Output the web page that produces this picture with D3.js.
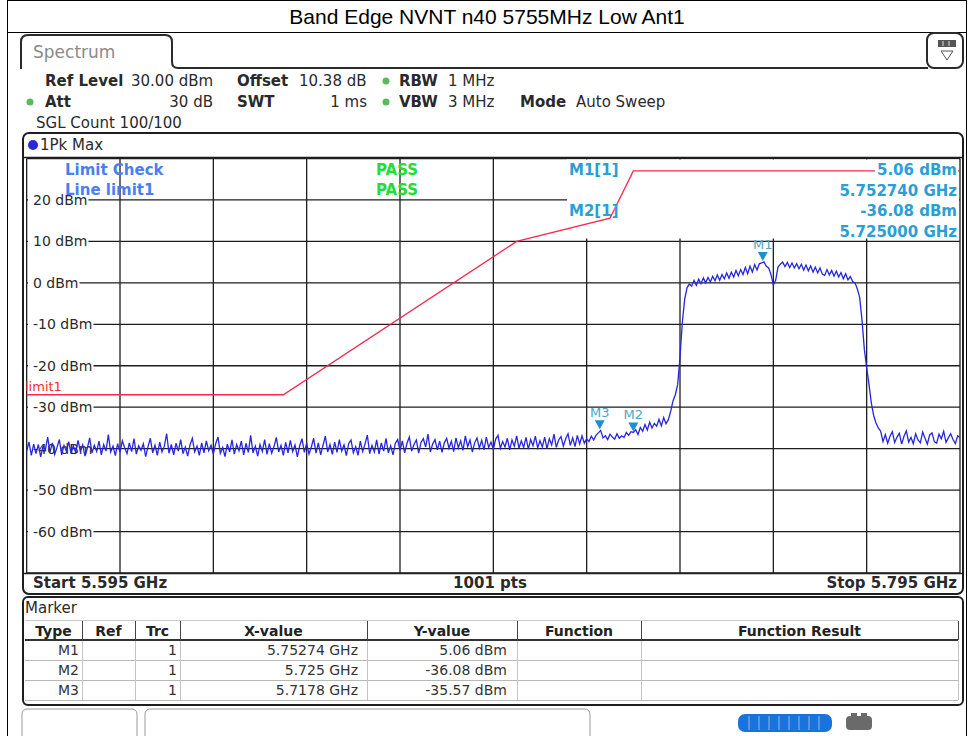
<!DOCTYPE html>
<html><head><meta charset="utf-8">
<script src="https://cdn.jsdelivr.net/npm/d3@7"></script>
<style>body{margin:0;background:#fff}svg{display:block}text{font-family:"DejaVu Sans",sans-serif}</style>
</head><body><svg id="c" width="968" height="736"></svg>
<script>
// ---------------- data ----------------
const titleText = "Band Edge NVNT n40 5755MHz Low Ant1";
const startGHz = 5.595, stopGHz = 5.795;
const xTickGHz = [5.595,5.615,5.635,5.655,5.675,5.695,5.715,5.735,5.755,5.775,5.795];
const yGridLevels = [30,20,10,0,-10,-20,-30,-40,-50,-60,-70];
const yLabelLevels = [20,10,0,-10,-20,-30,-40,-50,-60];
const yLabelTexts = ["20 dBm","10 dBm","0 dBm","-10 dBm","-20 dBm","-30 dBm","-40 dBm","-50 dBm","-60 dBm"];
// trace 1 (1Pk Max), read every 0.5 MHz from 5.595 to 5.795 GHz
const traceLevels = [
-40.6,-38.4,-41.6,-38.9,-41.2,-39.0,-42.0,-39.4,-40.3,-37.2,-40.9,-38.6,-41.4,-39.7,-37.8,-41.5,-39.2,-40.6,-38.3,-41.1,
-39.3,-40.9,-38.0,-40.6,-39.1,-41.8,-39.9,-37.4,-41.0,-39.2,-40.7,-38.2,-41.5,-39.0,-40.6,-36.6,-40.8,-39.4,-41.7,-38.8,
-40.9,-38.1,-39.8,-41.2,-38.6,-40.7,-37.6,-41.3,-39.3,-40.4,-38.8,-41.9,-39.5,-37.5,-41.0,-39.2,-41.6,-38.4,-40.8,-39.4,
-36.4,-41.1,-39.0,-41.5,-38.7,-40.6,-37.8,-41.2,-39.6,-41.8,-39.1,-37.5,-40.8,-39.4,-41.6,-38.6,-41.0,-38.1,-40.5,-39.2,
-41.3,-38.8,-37.2,-41.1,-39.7,-41.9,-38.9,-40.8,-37.9,-41.3,-39.0,-40.5,-38.2,-41.5,-38.7,-40.9,-36.8,-41.0,-39.4,-41.8,
-39.0,-40.7,-37.8,-41.4,-38.8,-41.1,-39.5,-37.3,-40.8,-39.2,-41.6,-38.5,-41.0,-38.0,-40.7,-39.1,-42.0,-39.3,-37.6,-40.9,
-38.7,-41.3,-39.6,-37.5,-41.1,-38.6,-41.5,-39.2,-37.0,-40.8,-39.0,-41.4,-38.4,-40.9,-37.8,-40.6,-39.1,-41.7,-38.8,-37.9,
-41.0,-39.5,-41.6,-38.2,-40.7,-38.9,-36.7,-41.2,-39.2,-40.8,-37.9,-41.3,-38.6,-40.6,-37.5,-41.0,-39.3,-41.5,-38.7,-37.8,
-40.5,-38.1,-41.0,-38.7,-37.2,-40.6,-39.0,-37.9,-41.1,-38.5,-37.6,-39.6,-36.5,-40.8,-38.9,-37.8,-40.3,-38.2,-40.9,-38.6,
-37.5,-39.9,-38.2,-40.7,-37.4,-39.8,-38.1,-40.4,-36.9,-39.5,-37.9,-40.8,-38.6,-37.4,-39.9,-38.0,-40.3,-37.2,-39.7,-38.4,
-40.2,-37.7,-36.8,-39.9,-38.3,-39.6,-37.5,-40.3,-37.9,-39.4,-36.9,-39.9,-38.1,-39.7,-37.3,-40.1,-37.8,-39.3,-37.0,-39.8,
-38.1,-39.6,-37.2,-40.0,-37.6,-39.1,-36.5,-39.7,-37.9,-37.1,-39.4,-37.6,-36.4,-39.2,-37.4,-39.5,-36.8,-38.9,-36.9,-38.7,
-37.6,-38.3,-37.0,-37.9,-36.8,-36.2,-35.6,-37.4,-36.9,-37.8,-36.5,-37.2,-37.7,-36.4,-37.5,-36.9,-37.3,-36.1,-36.8,-35.9,
-36.08,-35.4,-36.6,-34.9,-35.8,-34.2,-35.5,-33.6,-35.0,-33.9,-34.6,-32.9,-34.5,-32.5,-34.0,-33.0,-31.0,-28.5,-27.0,-24.5,
-18.0,-9.5,-4.0,-1.2,-0.3,-0.8,0.6,-0.6,0.9,-0.2,1.2,0.0,1.3,0.2,1.6,0.5,1.9,0.6,2.0,1.0,
2.4,1.1,2.6,1.4,3.0,1.7,3.2,2.0,3.7,2.2,4.0,2.6,4.4,3.1,4.6,4.8,5.06,4.0,3.6,2.0,
-0.5,0.6,3.8,4.5,5.0,3.9,4.9,3.7,4.8,3.6,4.6,3.4,4.5,3.1,4.3,2.9,4.1,2.6,3.8,2.4,
3.6,2.1,1.8,3.2,1.9,3.0,1.6,2.8,1.4,2.5,1.0,2.2,0.7,1.5,0.3,0.0,-1.5,-3.5,-9.0,-16.0,
-20.5,-24.5,-29.0,-32.0,-33.8,-35.0,-35.8,-38.3,-36.6,-38.7,-37.0,-35.9,-38.5,-37.2,-36.3,-38.9,-37.0,-35.7,-38.4,-37.3,
-38.8,-36.4,-37.9,-38.6,-36.0,-37.5,-38.9,-36.7,-36.2,-38.3,-38.7,-36.5,-37.6,-35.8,-38.5,-37.4,-36.4,-37.8,-38.8,-36.9,
-37.3];
const limitFreqs = [5.595,5.650,5.700,5.720,5.725,5.795];
const limitLevels = [-27,-27,10,15.6,27,27];
const markerNames = ["M1","M2","M3"];
const markerFreqs = [5.75274,5.725,5.7178];
const markerLevels = [5.06,-36.08,-35.57];
const markerXText = ["5.75274 GHz","5.725 GHz","5.7178 GHz"];
const markerYText = ["5.06 dBm","-36.08 dBm","-35.57 dBm"];
const markerInfoLines = ["5.06 dBm","5.752740 GHz","-36.08 dBm","5.725000 GHz"];
const tableHeaders = ["Type","Ref","Trc","X-value","Y-value","Function","Function Result"];

// ---------------- drawing ----------------
const svg = d3.select("#c");
const C = {grid:"#1e1e1e", text:"#2a2a2a", mk:"#2a9fd6", lim:"#f5284f", tr:"#2626e2"};

// outer frame + title
svg.append("rect").attr("x",7.5).attr("y",0.5).attr("width",959).attr("height",740).attr("fill","none").attr("stroke","#000");
svg.append("line").attr("x1",7).attr("x2",967).attr("y1",32.5).attr("y2",32.5).attr("stroke","#000");
svg.append("text").attr("x",487).attr("y",24).attr("text-anchor","middle")
  .style("font-family","'Liberation Sans',Arial,sans-serif").style("font-size","21px").attr("fill","#000").text(titleText);

// tab
svg.append("path").attr("d","M21,69 L21,42 Q21,35 28,35 L165,35 Q172,35 172,42 L172,62 Q172,68 178,68 L928,68")
  .attr("fill","none").attr("stroke","#2b2b2b").attr("stroke-width",2);
svg.append("text").attr("x",33).attr("y",58).style("font-size","17px").attr("fill","#8a8a8a").text("Spectrum");
// icon box
svg.append("rect").attr("x",927).attr("y",33).attr("width",36).attr("height",35).attr("rx",7).attr("fill","#fff").attr("stroke","#2b2b2b").attr("stroke-width",2);
svg.append("rect").attr("x",938).attr("y",40).attr("width",18).attr("height",7).attr("fill","#555");
[943,949].forEach(xx=>svg.append("line").attr("x1",xx).attr("x2",xx).attr("y1",41).attr("y2",46).attr("stroke","#ddd"));
svg.append("path").attr("d","M941,51 L953,51 L947,60 Z").attr("fill","none").attr("stroke","#555");

// header info
const hdr = svg.append("g").style("font-size","15px").attr("fill",C.text);
function ht(x,y,t,bold,anchor){hdr.append("text").attr("x",x).attr("y",y).attr("text-anchor",anchor||"start").style("font-weight",bold?"bold":"normal").text(t);}
ht(45,86,"Ref Level",1); ht(131,86,"30.00 dBm"); ht(237,86,"Offset",1); ht(299,86,"10.38 dB"); ht(399,86,"RBW",1); ht(448,86,"1 MHz");
ht(45,107,"Att",1); ht(213,107,"30 dB",0,"end"); ht(237,107,"SWT",1); ht(367,107,"1 ms",0,"end"); ht(399,107,"VBW",1); ht(448,107,"3 MHz");
ht(520,107,"Mode",1); ht(576,107,"Auto Sweep");
ht(36,128,"SGL Count 100/100");
[[386,81],[30,102],[386,102]].forEach(p=>svg.append("circle").attr("cx",p[0]).attr("cy",p[1]).attr("r",3.5).attr("fill","#5cb85c"));

// plot frame
svg.append("rect").attr("x",23).attr("y",133).attr("width",940).attr("height",461).attr("rx",6).attr("fill","#fff").attr("stroke","#1e1e1e").attr("stroke-width",2);
svg.append("circle").attr("cx",33).attr("cy",145).attr("r",5).attr("fill","#2a2ad0");
svg.append("text").attr("x",40).attr("y",150).style("font-size","15px").attr("fill",C.text).text("1Pk Max");

const x = d3.scaleLinear().domain([startGHz, stopGHz]).range([26.67, 960]);
const y = d3.scaleLinear().domain([-70, 30]).range([573, 158.5]);
const idx = d3.scaleLinear().domain([0, traceLevels.length-1]).range([startGHz, stopGHz]);

const g = svg.append("g");
// grid
g.selectAll(".vg").data(xTickGHz).join("line").attr("x1",d=>x(d)).attr("x2",d=>x(d)).attr("y1",y(30)).attr("y2",y(-70))
  .attr("stroke",C.grid).attr("stroke-width",1.3);
g.selectAll(".hg").data(yGridLevels).join("line").attr("x1",x(startGHz)).attr("x2",x(stopGHz)).attr("y1",d=>y(d)).attr("y2",d=>y(d))
  .attr("stroke",C.grid).attr("stroke-width",1.3);
svg.append("line").attr("x1",23).attr("x2",963).attr("y1",157.5).attr("y2",157.5).attr("stroke",C.grid).attr("stroke-width",1.5);
// y labels with background
const yl = g.selectAll(".yl").data(yLabelLevels).join("g");
yl.each(function(d,i){
  const t = d3.select(this).append("text").attr("x",33).attr("y",y(d)+5).style("font-size","14px").attr("fill",C.text).text(yLabelTexts[i]);
  const w = t.node().getComputedTextLength();
  d3.select(this).insert("rect","text").attr("x",28).attr("y",y(d)-8).attr("width",w+6).attr("height",16).attr("fill","#fff");
});
// marker info box background
g.append("rect").attr("x",567).attr("y",159.5).attr("width",392).attr("height",79).attr("fill","#fff");

// limit check text
const lt = svg.append("g").style("font-size","15px").style("font-weight","bold");
lt.append("text").attr("x",65).attr("y",175).attr("fill","#4a7ff0").text("Limit Check");
lt.append("text").attr("x",65).attr("y",195).attr("fill","#4a7ff0").text("Line limit1");
lt.append("text").attr("x",376).attr("y",175).attr("fill","#22dd33").text("PASS");
lt.append("text").attr("x",376).attr("y",195).attr("fill","#22dd33").text("PASS");

// limit line
svg.append("path").datum(limitFreqs.map((f,i)=>[f,limitLevels[i]]))
  .attr("d",d3.line().x(d=>x(d[0])).y(d=>y(d[1]))).attr("fill","none").attr("stroke",C.lim).attr("stroke-width",1.3);
svg.append("text").attr("x",25).attr("y",391).style("font-size","13px").attr("fill","#f03030").text("limit1");

// marker info texts
const mi = svg.append("g").style("font-size","15px").style("font-weight","bold").attr("fill",C.mk);
mi.append("text").attr("x",569).attr("y",175).text("M1[1]");
mi.append("text").attr("x",569).attr("y",216).text("M2[1]");
markerInfoLines.forEach((t,i)=>{
  const tt = mi.append("text").attr("x",957).attr("y",175+i*20.5).attr("text-anchor","end").text(t);
  if(i===0){const w=tt.node().getComputedTextLength(); mi.insert("rect","text").attr("x",957-w-2).attr("y",162).attr("width",w+3).attr("height",17).attr("fill","#fff");}
});

// trace
svg.append("path").datum(traceLevels)
  .attr("d",d3.line().x((d,i)=>x(idx(i))).y(d=>y(d))).attr("fill","none").attr("stroke",C.tr).attr("stroke-width",1.3);

// markers
markerNames.forEach((n,i)=>{
  const mx = x(markerFreqs[i]), my = y(markerLevels[i]);
  svg.append("path").attr("d",`M${mx-5},${my-10} L${mx+5},${my-10} L${mx},${my-1} Z`).attr("fill","#1e8fd0");
  svg.append("text").attr("x",mx).attr("y",my-13).attr("text-anchor","middle").style("font-size","13px").attr("fill","#4fa6c4").text(n);
});

// bottom of plot
svg.append("line").attr("x1",23).attr("x2",963).attr("y1",573.5).attr("y2",573.5).attr("stroke",C.grid).attr("stroke-width",1.5);
const bt = svg.append("g").style("font-size","15px").style("font-weight","bold").attr("fill",C.text);
bt.append("text").attr("x",33).attr("y",588).text("Start 5.595 GHz");
bt.append("text").attr("x",490).attr("y",588).attr("text-anchor","middle").text("1001 pts");
bt.append("text").attr("x",957).attr("y",588).attr("text-anchor","end").text("Stop 5.795 GHz");

// marker table
svg.append("rect").attr("x",23).attr("y",597).attr("width",940).attr("height",108).attr("rx",5).attr("fill","#fff").attr("stroke","#1e1e1e").attr("stroke-width",2);
svg.append("text").attr("x",25).attr("y",613).style("font-size","15px").attr("fill",C.text).text("Marker");
const colX = [25,82,135,180,367,517,641,958];
const tb = svg.append("g");
tb.append("line").attr("x1",25).attr("x2",958).attr("y1",620.5).attr("y2",620.5).attr("stroke","#ccc");
tb.append("line").attr("x1",25).attr("x2",958).attr("y1",640).attr("y2",640).attr("stroke","#333").attr("stroke-width",2);
[660,680,700].forEach(yy=>tb.append("line").attr("x1",25).attr("x2",958).attr("y1",yy+0.5).attr("y2",yy+0.5).attr("stroke","#b8b8b8"));
colX.slice(1).forEach((cx,i)=>{
  tb.append("line").attr("x1",cx+0.5).attr("x2",cx+0.5).attr("y1",621).attr("y2",640).attr("stroke","#444");
  tb.append("line").attr("x1",cx+0.5).attr("x2",cx+0.5).attr("y1",641).attr("y2",700).attr("stroke","#c4c4c4");
});
tableHeaders.forEach((h,i)=>tb.append("text").attr("x",(colX[i]+colX[i+1])/2).attr("y",636).attr("text-anchor","middle")
  .style("font-size","14px").style("font-weight","bold").attr("fill","#222").text(h));
markerNames.forEach((n,i)=>{
  const yy = 655+i*20;
  const rt = (xx,t)=>tb.append("text").attr("x",xx).attr("y",yy).attr("text-anchor","end").style("font-size","14px").attr("fill","#333").text(t);
  rt(79,n); rt(177,"1"); rt(358,markerXText[i]); rt(507,markerYText[i]);
});

// status bar
svg.append("rect").attr("x",22).attr("y",709).attr("width",115).attr("height",32).attr("rx",5).attr("fill","#fff").attr("stroke","#9a9a9a");
svg.append("rect").attr("x",145).attr("y",709).attr("width",445).attr("height",32).attr("rx",5).attr("fill","#fff").attr("stroke","#9a9a9a");
svg.append("rect").attr("x",738).attr("y",714).attr("width",94).attr("height",18).attr("rx",7).attr("fill","#1a72dc");
d3.range(0,8).forEach(k=>svg.append("line").attr("x1",749+k*10).attr("x2",749+k*10).attr("y1",716).attr("y2",730).attr("stroke","#8fb8ee"));
svg.append("rect").attr("x",846).attr("y",716).attr("width",26).attr("height",14).attr("rx",4).attr("fill","#6a6a6a");
svg.append("rect").attr("x",851).attr("y",713).attr("width",6).attr("height",5).attr("fill","#6a6a6a");
svg.append("rect").attr("x",861).attr("y",713).attr("width",6).attr("height",5).attr("fill","#6a6a6a");
</script></body></html>
